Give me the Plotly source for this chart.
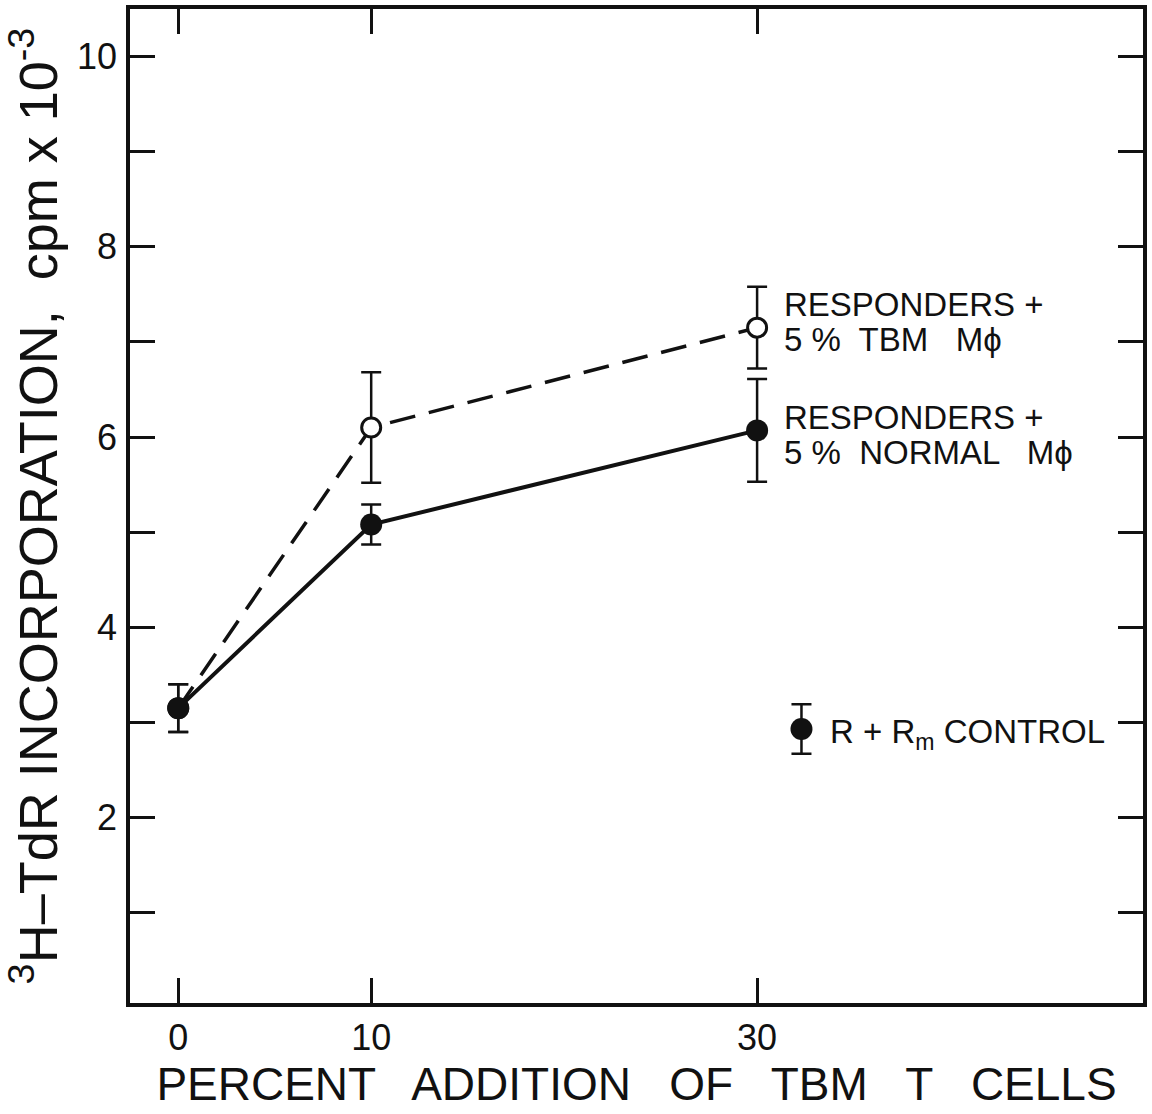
import plotly.graph_objects as go

# Data
x_pct = [0, 10, 30]
normal_mean = [3.15, 5.08, 6.07]
normal_err = [0.25, 0.21, 0.54]
tbm_mean = [3.15, 6.10, 7.15]
tbm_err = [0.25, 0.58, 0.43]
control_x = [32.3]
control_mean = [2.93]
control_err = [0.26]

x_ticks = [0, 10, 30]
x_ticklabels = ["0", "10", "30"]
y_major = [2, 4, 6, 8, 10]
y_major_labels = ["2", "4", "6", "8", "10"]

FONT = "Liberation Sans"
BLACK = "#111111"

fig = go.Figure()

fig.add_trace(go.Scatter(
    x=x_pct, y=tbm_mean,
    mode="lines+markers",
    line=dict(color=BLACK, width=3.5, dash="26px,14px"),
    marker=dict(symbol="circle", size=19, color="white", line=dict(color=BLACK, width=3)),
    error_y=dict(type="data", array=tbm_err, color=BLACK, thickness=2.5, width=10),
    showlegend=False,
))
fig.add_trace(go.Scatter(
    x=x_pct, y=normal_mean,
    mode="lines+markers",
    line=dict(color=BLACK, width=4),
    marker=dict(symbol="circle", size=22, color=BLACK),
    error_y=dict(type="data", array=normal_err, color=BLACK, thickness=2.5, width=10),
    showlegend=False,
))
fig.add_trace(go.Scatter(
    x=control_x, y=control_mean,
    mode="markers",
    marker=dict(symbol="circle", size=22, color=BLACK),
    error_y=dict(type="data", array=control_err, color=BLACK, thickness=2.5, width=10),
    showlegend=False,
))

ann_font = dict(family=FONT, size=33, color=BLACK)
labels = [
    (31.3, 7.39, "RESPONDERS +"),
    (31.3, 7.03, "5 %  TBM   Mϕ"),
    (31.3, 6.21, "RESPONDERS +"),
    (31.3, 5.84, "5 %  NORMAL   Mϕ"),
    (33.7, 2.88, "R + R<sub>m</sub> CONTROL"),
]
for lx, ly, txt in labels:
    fig.add_annotation(x=lx, y=ly, xref="x", yref="y", text=txt, showarrow=False,
                       xanchor="left", yanchor="middle", font=ann_font)

axis_common = dict(
    showline=True, linecolor=BLACK, linewidth=3.5, mirror="ticks",
    ticks="inside", ticklen=25, tickwidth=3, tickcolor=BLACK,
    showgrid=False, zeroline=False, automargin=False,
)

fig.update_xaxes(
    range=[-2.5, 50.0],
    tickmode="array", tickvals=x_ticks, ticktext=x_ticklabels,
    tickfont=dict(family=FONT, size=36, color=BLACK),
    ticklabelstandoff=0,
    title=dict(text="PERCENT   ADDITION   OF   TBM   T   CELLS",
               font=dict(family=FONT, size=46, color=BLACK), standoff=6),
    **axis_common,
)
fig.update_yaxes(
    range=[0.05, 10.5],
    tickmode="array", tickvals=y_major, ticktext=y_major_labels,
    minor=dict(ticks="inside", ticklen=25, tickwidth=3, tickcolor=BLACK,
               tickmode="linear", tick0=0, dtick=1, showgrid=False),
    tickfont=dict(family=FONT, size=36, color=BLACK),
    ticklabelstandoff=2,
    title=dict(text="<sup>3</sup>H–TdR INCORPORATION,  cpm x 10<sup>-3</sup>",
               font=dict(family=FONT, size=54, color=BLACK), standoff=6),
    **axis_common,
)

fig.update_layout(
    width=1152, height=1114,
    margin=dict(l=130, r=9, t=9, b=111),
    paper_bgcolor="white", plot_bgcolor="white",
    font=dict(family=FONT, color=BLACK),
)

fig.write_html("out.html")
